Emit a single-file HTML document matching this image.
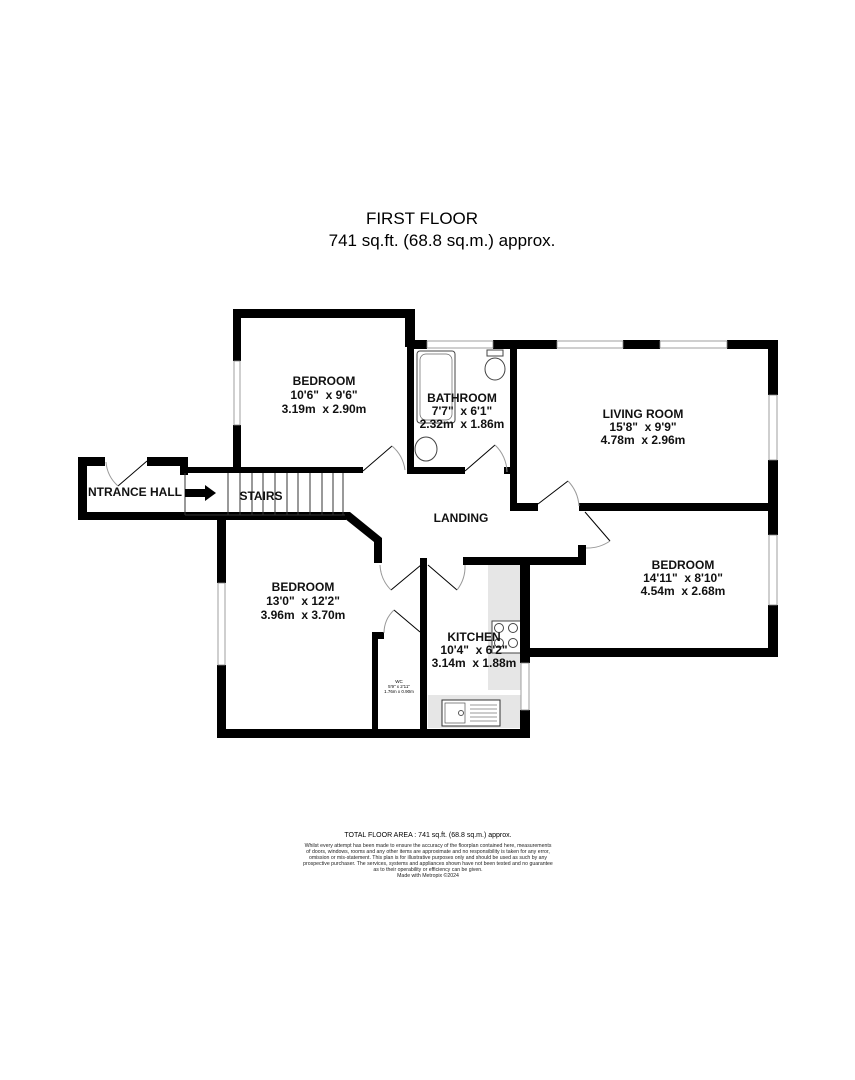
<!DOCTYPE html>
<html><head><style>
body{margin:0;background:#fff;}
svg{display:block}
text{font-family:"Liberation Sans",Arial,sans-serif;white-space:pre}
.r{font-weight:bold;font-size:12px;text-anchor:middle;fill:#111}
</style></head><body>
<svg width="855" height="1080" viewBox="0 0 855 1080">
<rect width="855" height="1080" fill="#fff"/>
<text x="422" y="224" font-size="17" text-anchor="middle">FIRST FLOOR</text>
<text x="442" y="246" font-size="17" text-anchor="middle">741 sq.ft. (68.8 sq.m.) approx.</text>

<rect x="488" y="565" width="33" height="125" fill="#e6e6e6"/>
<rect x="428" y="695" width="93" height="33" fill="#e6e6e6"/>
<rect x="442" y="700" width="58" height="26" fill="#fff" stroke="#333" stroke-width="1"/>
<rect x="445" y="703" width="20" height="20" fill="none" stroke="#555" stroke-width="0.7"/>
<circle cx="461" cy="713" r="2.5" fill="none" stroke="#555"/>
<g stroke="#777" stroke-width="0.7"><line x1="470" y1="705" x2="497" y2="705"/><line x1="470" y1="709" x2="497" y2="709"/><line x1="470" y1="713" x2="497" y2="713"/><line x1="470" y1="717" x2="497" y2="717"/><line x1="470" y1="721" x2="497" y2="721"/></g>
<rect x="492" y="621" width="29" height="32" fill="#fff" stroke="#444" stroke-width="1"/>
<g fill="none" stroke="#444" stroke-width="1"><circle cx="499" cy="628" r="4.5"/><circle cx="513" cy="628" r="4.5"/><circle cx="499" cy="643" r="4.5"/><circle cx="513" cy="643" r="4.5"/></g>

<rect x="417" y="351" width="38" height="72" rx="3" fill="#fff" stroke="#444"/>
<rect x="420" y="354" width="32" height="66" rx="6" fill="none" stroke="#666" stroke-width="0.7"/>
<ellipse cx="495" cy="369" rx="10" ry="11" fill="#fff" stroke="#444"/>
<rect x="487" y="350" width="16" height="6" fill="#fff" stroke="#444"/>
<ellipse cx="426" cy="449" rx="11" ry="12" fill="#fff" stroke="#444"/>

<g fill="#000">
<rect x="233" y="309" width="182" height="9"/>
<rect x="233" y="309" width="8" height="52"/>
<rect x="233" y="425" width="8" height="47"/>
<rect x="405" y="309" width="10" height="38"/>
<rect x="407" y="340" width="7" height="133"/>
<rect x="407" y="340" width="20" height="9"/>
<rect x="493" y="340" width="24" height="9"/>
<rect x="510" y="340" width="7" height="170"/>
<rect x="407" y="467" width="58" height="7"/>
<rect x="504" y="467" width="6" height="7"/>
<rect x="510" y="340" width="47" height="9"/>
<rect x="623" y="340" width="37" height="9"/>
<rect x="727" y="340" width="51" height="9"/>
<rect x="768" y="340" width="10" height="55"/>
<rect x="768" y="460" width="10" height="75"/>
<rect x="768" y="605" width="10" height="52"/>
<rect x="510" y="503" width="28" height="8"/>
<rect x="579" y="503" width="199" height="8"/>
<rect x="183" y="467" width="180" height="6"/>
<rect x="78" y="457" width="27" height="9"/>
<rect x="147" y="457" width="41" height="9"/>
<rect x="180" y="457" width="8" height="18"/>
<rect x="78" y="457" width="9" height="63"/>
<rect x="78" y="512" width="268" height="8"/>
<polygon points="344,512 350,512 382,538 382,563 374,563 374,542 344,518"/>
<rect x="217" y="515" width="9" height="68"/>
<rect x="217" y="665" width="9" height="73"/>
<rect x="217" y="729" width="313" height="9"/>
<rect x="372" y="632" width="12" height="7"/>
<rect x="372" y="632" width="6" height="100"/>
<rect x="420" y="558" width="7" height="175"/>
<rect x="463" y="557" width="123" height="8"/>
<rect x="578" y="545" width="8" height="20"/>
<rect x="520" y="557" width="10" height="106"/>
<rect x="520" y="710" width="10" height="28"/>
<rect x="520" y="648" width="258" height="9"/>
</g>
<g fill="#fff" stroke="#888" stroke-width="0.8">
<rect x="234" y="361" width="6" height="64"/>
<rect x="427" y="341" width="66" height="7"/>
<rect x="557" y="341" width="66" height="7"/>
<rect x="660" y="341" width="67" height="7"/>
<rect x="769" y="395" width="8" height="65"/>
<rect x="769" y="535" width="8" height="70"/>
<rect x="218" y="583" width="7" height="82"/>
<rect x="521" y="663" width="8" height="47"/>
</g>
<g stroke="#333" stroke-width="1" fill="none">
<line x1="185" y1="515" x2="345" y2="515"/>
<line x1="185" y1="473" x2="185" y2="515"/>
<line x1="228" y1="473" x2="228" y2="515"/><line x1="240" y1="473" x2="240" y2="515"/><line x1="252" y1="473" x2="252" y2="515"/><line x1="263" y1="473" x2="263" y2="515"/><line x1="275" y1="473" x2="275" y2="515"/><line x1="287" y1="473" x2="287" y2="515"/><line x1="298" y1="473" x2="298" y2="515"/><line x1="310" y1="473" x2="310" y2="515"/><line x1="322" y1="473" x2="322" y2="515"/><line x1="333" y1="473" x2="333" y2="515"/><line x1="343" y1="473" x2="343" y2="515"/>
</g>
<polygon points="185,489 205,489 205,485 216,493 205,501 205,497 185,497" fill="#000"/>
<g stroke="#000" stroke-width="1" fill="none">
<line x1="363" y1="471" x2="392" y2="446"/><path d="M392,446 A38,38 0 0 1 405,470" stroke="#999"/>
<line x1="465" y1="471" x2="495" y2="445"/><path d="M495,445 A38,38 0 0 1 507,472" stroke="#999"/>
<line x1="538" y1="504" x2="568" y2="481"/><path d="M568,481 A40,40 0 0 1 579,506" stroke="#999"/>
<line x1="585" y1="512" x2="610" y2="541"/><path d="M610,541 A40,40 0 0 1 586,548" stroke="#999"/>
<line x1="421" y1="565" x2="391" y2="590"/><path d="M391,590 A38,38 0 0 1 380,565" stroke="#999"/>
<line x1="428" y1="565" x2="457" y2="590"/><path d="M457,590 A38,38 0 0 0 465,565" stroke="#999"/>
<line x1="420" y1="632" x2="394" y2="610"/><path d="M394,610 A32,32 0 0 0 384,633" stroke="#999"/>
<line x1="147" y1="461" x2="118" y2="486"/><path d="M118,486 A36,36 0 0 1 106,462" stroke="#999"/>
</g>
<text class="r" x="324" y="385">BEDROOM</text>
<text class="r" x="324" y="399">10'6"  x 9'6"</text>
<text class="r" x="324" y="413">3.19m  x 2.90m</text>
<text class="r" x="462" y="402">BATHROOM</text>
<text class="r" x="462" y="415">7'7"  x 6'1"</text>
<text class="r" x="462" y="428">2.32m  x 1.86m</text>
<text class="r" x="643" y="418">LIVING ROOM</text>
<text class="r" x="643" y="431">15'8"  x 9'9"</text>
<text class="r" x="643" y="444">4.78m  x 2.96m</text>
<text class="r" x="135" y="496">NTRANCE HALL</text>
<text class="r" x="261" y="500">STAIRS</text>
<text class="r" x="461" y="522">LANDING</text>
<text class="r" x="683" y="569">BEDROOM</text>
<text class="r" x="683" y="582">14'11"  x 8'10"</text>
<text class="r" x="683" y="595">4.54m  x 2.68m</text>
<text class="r" x="303" y="591">BEDROOM</text>
<text class="r" x="303" y="605">13'0"  x 12'2"</text>
<text class="r" x="303" y="619">3.96m  x 3.70m</text>
<text class="r" x="474" y="641">KITCHEN</text>
<text class="r" x="474" y="654">10'4"  x 6'2"</text>
<text class="r" x="474" y="667">3.14m  x 1.88m</text>
<g font-size="4.5" text-anchor="middle"><text x="399" y="683">WC</text><text x="399" y="688">5'9" x 2'11"</text><text x="399" y="693">1.76m x 0.90m</text></g>
<text x="428" y="837" font-size="7" text-anchor="middle">TOTAL FLOOR AREA : 741 sq.ft. (68.8 sq.m.) approx.</text>
<g font-size="5.2" text-anchor="middle" fill="#222">
<text x="428" y="847">Whilst every attempt has been made to ensure the accuracy of the floorplan contained here, measurements</text>
<text x="428" y="853">of doors, windows, rooms and any other items are approximate and no responsibility is taken for any error,</text>
<text x="428" y="859">omission or mis-statement. This plan is for illustrative purposes only and should be used as such by any</text>
<text x="428" y="865">prospective purchaser. The services, systems and appliances shown have not been tested and no guarantee</text>
<text x="428" y="871">as to their operability or efficiency can be given.</text>
<text x="428" y="877">Made with Metropix ©2024</text>
</g>
</svg>
</body></html>
